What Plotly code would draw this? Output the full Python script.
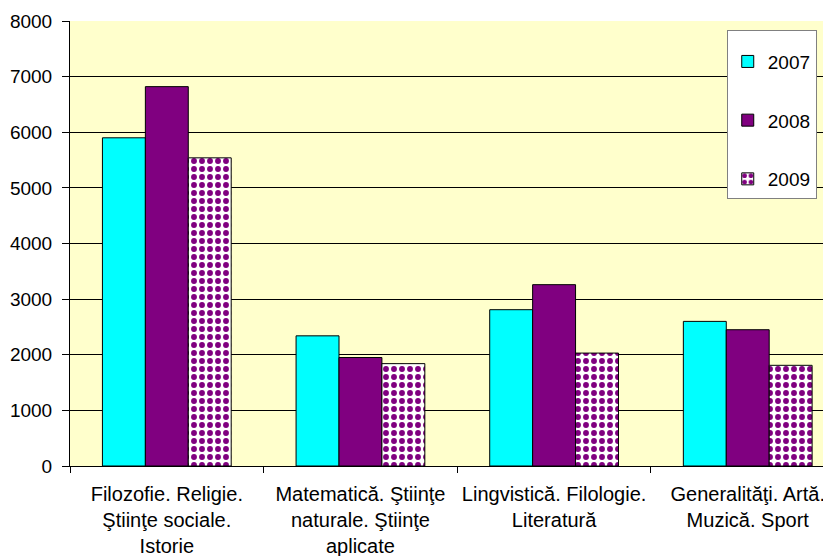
import plotly.graph_objects as go

categories = [
    "Filozofie. Religie.<br>Ştiinţe sociale.<br>Istorie",
    "Matematică. Ştiinţe<br>naturale. Ştiinţe<br>aplicate",
    "Lingvistică. Filologie.<br>Literatură",
    "Generalităţi. Artă.<br>Muzică. Sport",
]
years = ["2007", "2008", "2009"]
v2007 = [5900, 2340, 2810, 2600]
v2008 = [6820, 1950, 3260, 2450]
v2009 = [5540, 1840, 2030, 1810]

font = "Liberation Sans, Arial, sans-serif"
fig = go.Figure()
fig.add_bar(x=categories, y=v2007, name=years[0], legendgroup="a",
            marker=dict(color="#00FFFF", line=dict(color="black", width=1)))
fig.add_bar(x=categories, y=v2008, name=years[1], legendgroup="b",
            marker=dict(color="#800080", line=dict(color="black", width=1)))
fig.add_bar(x=categories, y=v2009, name=years[2], legendgroup="c",
            marker=dict(color="white", line=dict(color="black", width=1),
                        pattern=dict(shape=".", fgcolor="#800080", bgcolor="white",
                                     fgopacity=1, size=8, solidity=0.42,
                                     fillmode="replace")))

fig.update_layout(
    width=823, height=548,
    margin=dict(l=62, r=0, t=13, b=90, autoexpand=False),
    paper_bgcolor="white", plot_bgcolor="#FFFFCC",
    barmode="group", bargap=0.335, bargroupgap=0,
    font=dict(family=font, size=19, color="black"),
    legend=dict(x=0.863, y=0.98, xanchor="left", yanchor="top",
                bgcolor="white", bordercolor="#808080", borderwidth=1,
                traceorder="grouped", tracegroupgap=31,
                title=dict(text=" ", font=dict(size=9)),
                font=dict(size=19)),
    xaxis=dict(range=[-0.5, 3.43], tickson="boundaries", ticks="outside", ticklen=6,
               tickcolor="black", showline=True, linecolor="black", linewidth=1,
               automargin=False, ticklabelstandoff=10, tickfont=dict(size=20)),
    yaxis=dict(range=[0, 8000], dtick=1000, ticks="outside", ticklen=7,
               tickcolor="black", showline=True, linecolor="black", linewidth=1,
               showgrid=True, gridcolor="black", gridwidth=1, zeroline=False,
               automargin=False, ticklabelstandoff=6, tickfont=dict(size=19)),
)
fig.write_html("out.html")
